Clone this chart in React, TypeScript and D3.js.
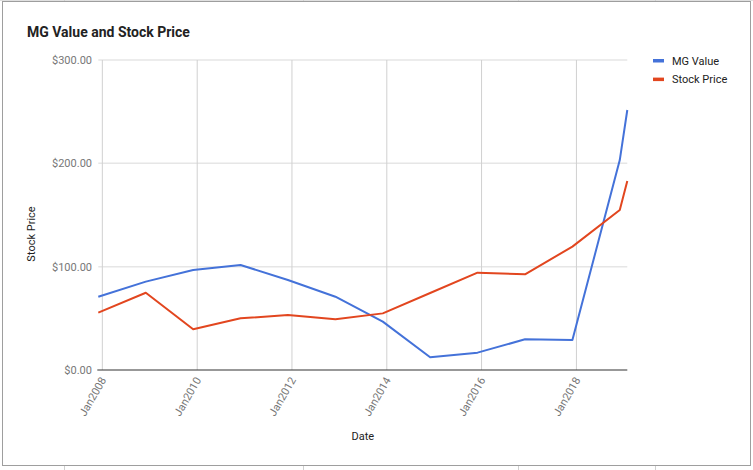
import React from "react";
import * as d3 from "d3";

const dates = [
  "2007-12-01", "2008-12-01", "2009-12-01", "2010-12-01", "2011-12-01", "2012-12-01",
  "2013-12-01", "2014-12-01", "2015-12-01", "2016-12-01", "2017-12-01", "2018-12-01", "2019-01-28",
];
const mgValue = [70.9, 85.5, 96.8, 101.6, 87.1, 70.9, 46.8, 12.3, 16.8, 29.7, 29.0, 203.2, 251.6];
const stockPrice = [55.5, 74.8, 39.4, 50.0, 53.2, 49.0, 54.8, 74.5, 94.2, 92.6, 119.4, 154.8, 182.9];
const yTicks = [0, 100, 200, 300];
const xTickYears = [2008, 2010, 2012, 2014, 2016, 2018];
const seriesNames = ["MG Value", "Stock Price"];
const colors = ["#4472d9", "#e2461f"];

export default function App() {
  const W = 753, H = 470;
  const left = 98.3, right = 627.3, top = 60, bottom = 370;
  const parse = d3.timeParse("%Y-%m-%d");
  const ds = dates.map((d) => parse(d) as Date);
  const x = d3.scaleTime().domain([ds[0], ds[ds.length - 1]]).range([left, right]);
  const y = d3.scaleLinear().domain([0, 300]).range([bottom, top]);
  const line = d3
    .line<[Date, number]>()
    .x((d) => x(d[0]))
    .y((d) => y(d[1]));
  const series = [mgValue, stockPrice].map((vals) => vals.map((v, i) => [ds[i], v] as [Date, number]));
  const font = "Roboto, 'Noto Sans', sans-serif";
  const fmt = (v: number) => "$" + v.toFixed(2);
  const sheetTicks = [64, 303, 518, 655];

  return (
    <svg width={W} height={H} style={{ position: "absolute", left: 0, top: 0, background: "#fff" }} fontFamily={font}>
      <rect x={0} y={0} width={W} height={H} fill="#fff" />
      <line x1={0} x2={W} y1={0.5} y2={0.5} stroke="#e0e0e0" />
      {sheetTicks.map((t) => (
        <g key={t}>
          <line x1={t + 0.5} x2={t + 0.5} y1={0} y2={2} stroke="#d0d0d0" />
          <line x1={t + 0.5} x2={t + 0.5} y1={466} y2={H} stroke="#d0d0d0" />
        </g>
      ))}
      <rect x={2.5} y={1.5} width={748} height={464} fill="#fff" stroke="#9e9e9e" strokeWidth={1} />

      <text x={27} y={37} fontSize={14} fontWeight="bold" fill="#222">MG Value and Stock Price</text>

      {yTicks.map((t) => (
        <g key={t}>
          {t !== 0 && (
            <line x1={left} x2={right} y1={y(t)} y2={y(t)} stroke="#e6e6e6" strokeWidth={1.5} />
          )}
          <text x={92} y={y(t) + 4} textAnchor="end" fontSize={11} fill="#777">{fmt(t)}</text>
        </g>
      ))}
      {xTickYears.map((yr) => {
        const xp = x(new Date(yr, 0, 1));
        return (
          <g key={yr}>
            <line x1={xp} x2={xp} y1={top} y2={bottom} stroke="#d0d0d0" strokeWidth={1} />
            <text
              transform={`translate(${xp + 1},${bottom + 8}) rotate(-60)`}
              textAnchor="end"
              fontSize={11}
              fill="#777"
              dy="0.35em"
            >
              {"Jan" + yr}
            </text>
          </g>
        );
      })}
      <line x1={left - 1} x2={right} y1={y(0)} y2={y(0)} stroke="#333" strokeWidth={1.2} />

      {series.map((s, i) => (
        <path key={i} d={line(s) || ""} fill="none" stroke={colors[i]} strokeWidth={2} strokeLinejoin="round" />
      ))}

      <text transform={`translate(35,234) rotate(-90)`} textAnchor="middle" fontSize={11} fill="#222">
        Stock Price
      </text>
      <text x={(left + right) / 2} y={440} textAnchor="middle" fontSize={11} fill="#222">Date</text>

      {seriesNames.map((n, i) => (
        <g key={n} transform={`translate(653,${60.7 + i * 18.6})`}>
          <rect x={0} y={-1.7} width={11} height={3.5} fill={colors[i]} />
          <text x={19} y={4} fontSize={11} fill="#222">{n}</text>
        </g>
      ))}
    </svg>
  );
}
